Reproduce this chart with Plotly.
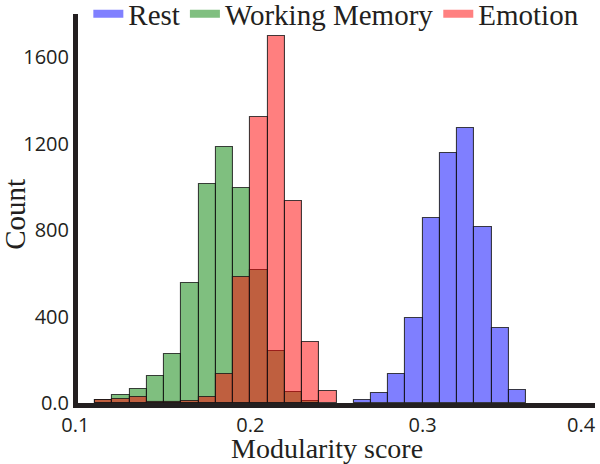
import plotly.graph_objects as go

# bin left edges (width 0.01) and counts
rest_bins = [0.26, 0.27, 0.28, 0.29, 0.30, 0.31, 0.32, 0.33, 0.34, 0.35]
rest_counts = [12, 45, 135, 394, 854, 1157, 1274, 815, 348, 61]

wm_bins = [0.11, 0.12, 0.13, 0.14, 0.15, 0.16, 0.17, 0.18, 0.19, 0.20, 0.21, 0.22, 0.23]
wm_counts = [15, 35, 66, 123, 225, 555, 1012, 1183, 996, 617, 240, 50, 10]

emo_bins = [0.11, 0.12, 0.13, 0.14, 0.15, 0.16, 0.17, 0.18, 0.19, 0.20, 0.21, 0.22, 0.23, 0.24]
emo_counts = [12, 20, 26, 5, 5, 10, 30, 135, 585, 1325, 1697, 935, 280, 55]

bin_width = 0.01
y_ticks = [0, 400, 800, 1200, 1600]
y_tick_labels = ['0.0', '400', '800', '1200', '1600']
x_ticks = [0.1, 0.2, 0.3, 0.4]
# last label is drawn as a right-anchored annotation so it stays inside the figure
x_tick_labels = ['0.1\u00a0', '0.2', '0.3', '']

series = [
    ('Rest', 'rgba(0,0,255,0.5)', '#8080FF'),
    ('Working Memory', 'rgba(0,128,0,0.5)', '#80BF80'),
    ('Emotion', 'rgba(255,0,0,0.5)', '#FF8080'),
]
data = [(rest_bins, rest_counts), (wm_bins, wm_counts), (emo_bins, emo_counts)]

fig = go.Figure()

for (name, color, _), (bins, counts) in zip(series, data):
    fig.add_trace(go.Bar(
        x=[b + bin_width / 2 for b in bins], y=counts, width=bin_width,
        name=name, showlegend=False,
        marker=dict(color=color, line=dict(color='rgba(20,20,20,0.8)', width=1.1)),
    ))

# legend swatches as wide flat patches, like the reference
for name, _, legend_color in series:
    fig.add_trace(go.Scatter(
        x=[None], y=[None], mode='lines', name=name,
        line=dict(color=legend_color, width=8),
    ))

serif = 'Liberation Serif'
sans = 'Open Sans'
ink = '#231F20'

fig.update_layout(
    width=600, height=464,
    margin=dict(l=78, r=5, t=14, b=61, autoexpand=False),
    barmode='overlay', bargap=0,
    plot_bgcolor='white', paper_bgcolor='white',
    showlegend=True,
    legend=dict(
        orientation='h', x=0.02, y=1.066, xanchor='left', yanchor='top',
        font=dict(family=serif, size=29, color=ink),
        itemwidth=30, bgcolor='rgba(0,0,0,0)',
    ),
    annotations=[
        dict(text='Count', xref='paper', yref='paper', x=-0.122, y=0.486,
             textangle=-90, showarrow=False, xanchor='center', yanchor='middle',
             font=dict(family=serif, size=29, color=ink)),
        dict(text='Modularity score', xref='paper', yref='paper', x=0.482, y=-0.117,
             showarrow=False, xanchor='center', yanchor='middle',
             font=dict(family=serif, size=28, color=ink)),
        dict(text='0.4', xref='paper', yref='paper', x=1.006, y=-0.054,
             showarrow=False, xanchor='right', yanchor='middle',
             font=dict(family=sans, size=20, color=ink)),
    ],
)
fig.update_xaxes(
    range=[0.1, 0.4], tickvals=x_ticks, ticktext=x_tick_labels, ticks='',
    showline=True, linewidth=5, linecolor=ink, automargin=False,
    showgrid=False, zeroline=False, ticklabeloverflow='allow',
    tickfont=dict(family=sans, size=20, color=ink),
)
fig.update_yaxes(
    range=[0, 1800], tickvals=y_ticks, ticktext=y_tick_labels, ticks='',
    showline=True, linewidth=5, linecolor=ink, automargin=False,
    showgrid=False, zeroline=False, ticklabeloverflow='allow',
    tickfont=dict(family=sans, size=20, color=ink),
)

fig.write_html('out.html', config={'displayModeBar': False},
               post_script="document.body.style.margin='0';")
